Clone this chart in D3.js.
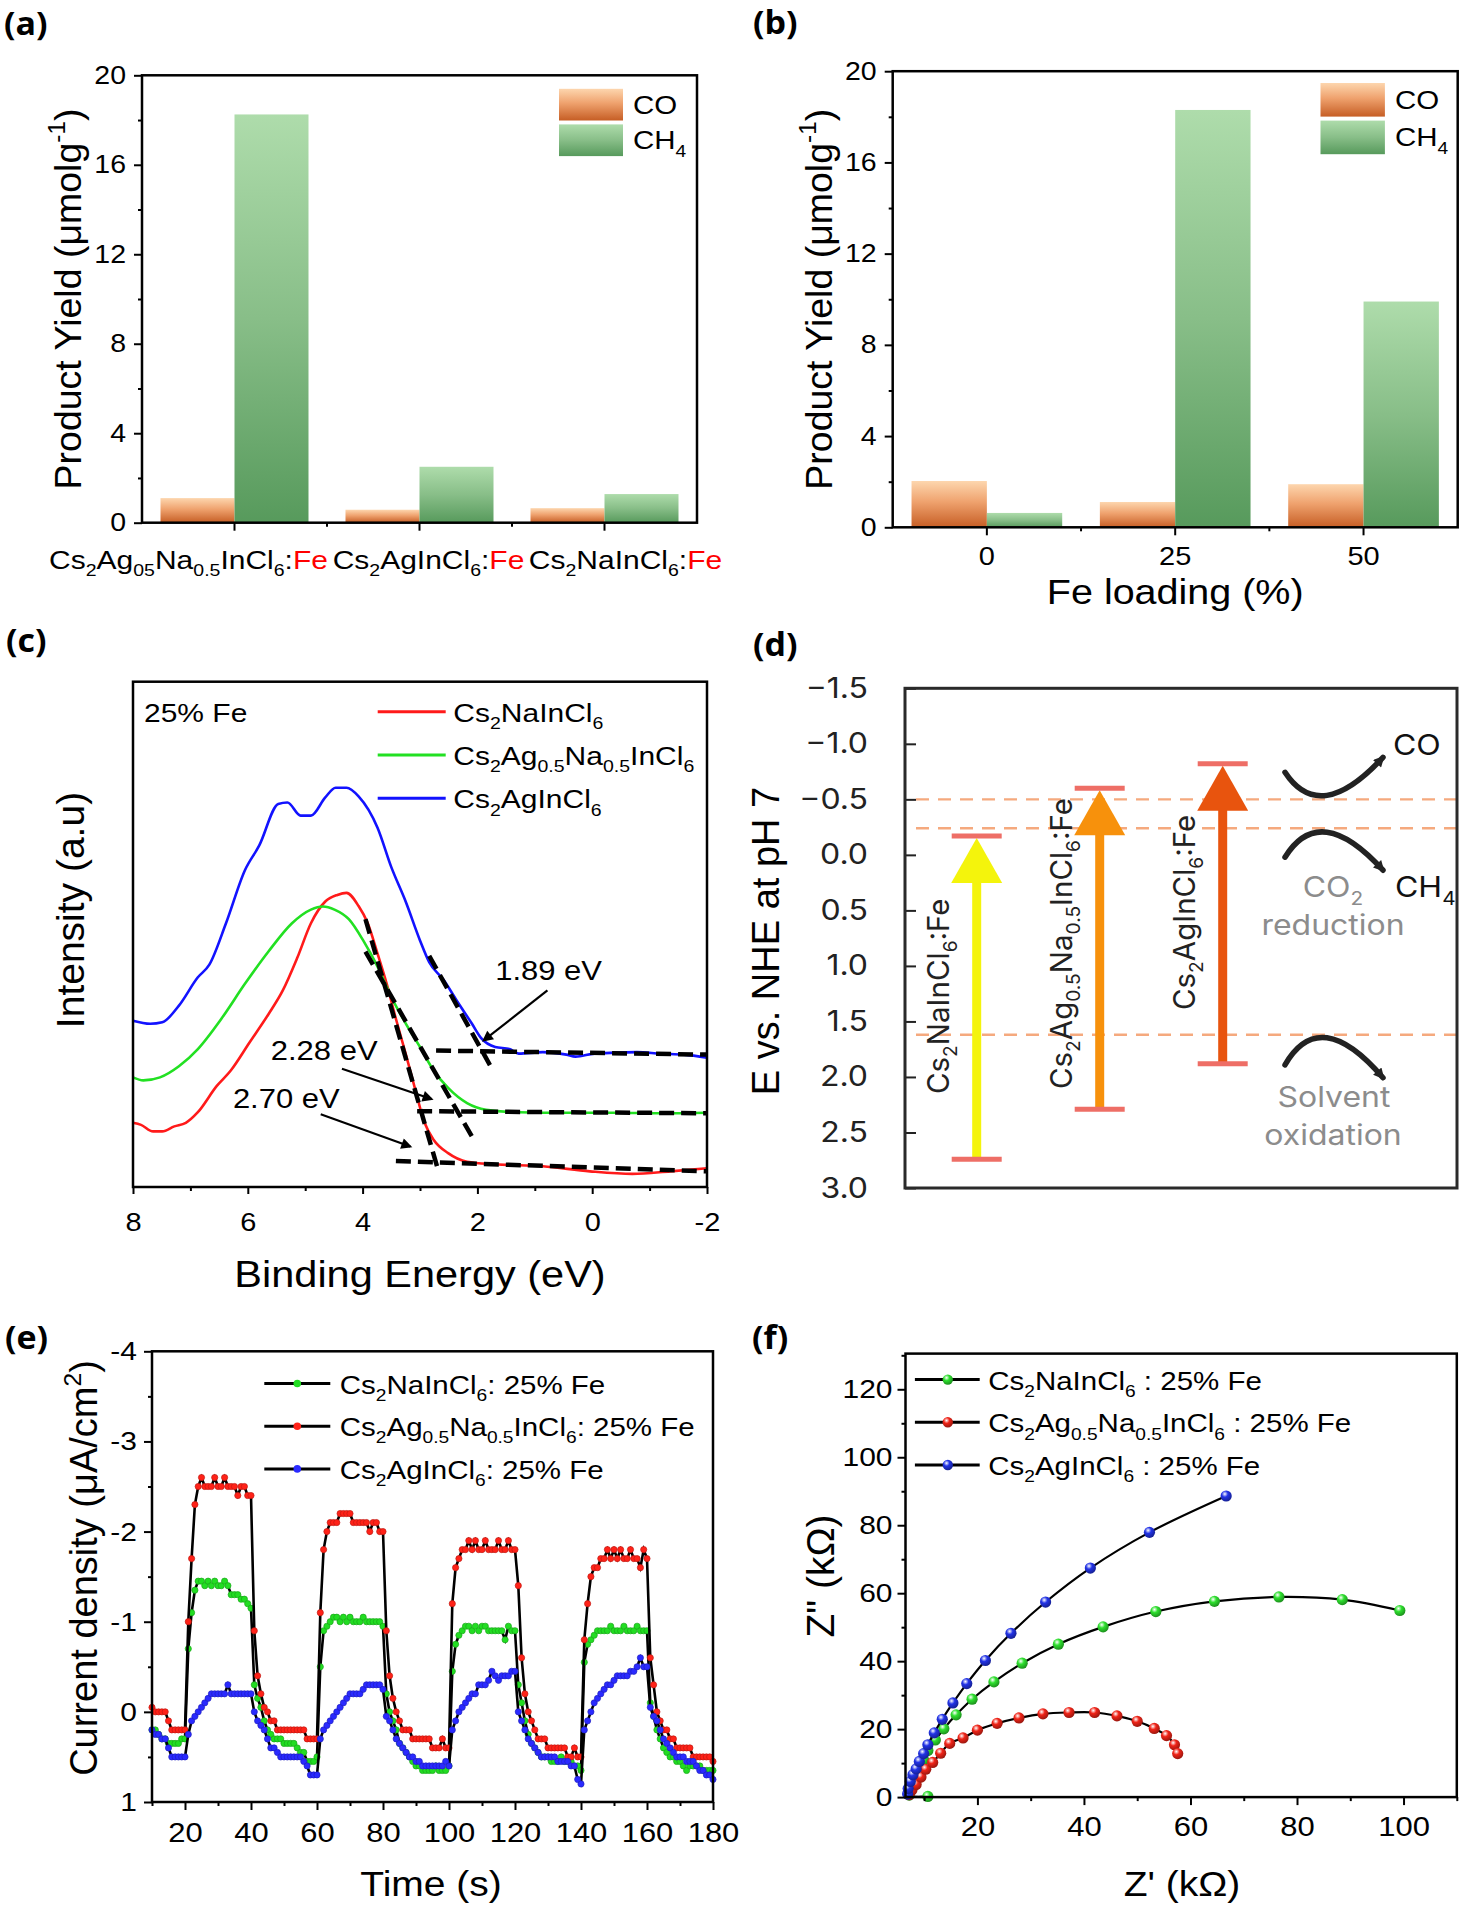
<!DOCTYPE html>
<html>
<head>
<meta charset="utf-8">
<title>Cs2(Ag,Na)InCl6:Fe photocatalysis</title>
<script src="https://cdn.jsdelivr.net/npm/d3@7"></script>
<style>
  body { margin: 0; background: #fff; }
  svg { display: block; }
</style>
</head>
<body>
<svg id="fig" width="1477" height="1909"></svg>
<script>
// ---------------- data ----------------
// (a) product yield per composition
const compLabels = ["Cs_{2}Ag_{05}Na_{0.5}InCl_{6}:!{Fe}", "Cs_{2}AgInCl_{6}:!{Fe}", "Cs_{2}NaInCl_{6}:!{Fe}"];
const coByComp = [1.1, 0.58, 0.65];
const ch4ByComp = [18.25, 2.5, 1.28];
// (b) product yield vs Fe loading
const feLoading = ["0", "25", "50"];
const coByFe = [2.03, 1.11, 1.89];
const ch4ByFe = [0.63, 18.3, 9.9];
const yieldTicks = [0, 4, 8, 12, 16, 20];

// (c) valence band XPS, [binding energy, intensity]
const vbNa = [[8,12.7],[7.86,12.3],[7.65,11.0],[7.49,11.0],[7.28,12.0],[7.08,12.7],[6.87,14.8],[6.54,20.0],[6.3,23.0],[5.97,28.6],[5.64,34.2],[5.39,38.9],[5.14,45.3],[4.9,52.2],[4.65,56.5],[4.44,57.8],[4.28,58.2],[4.07,55.6],[3.91,52.2],[3.74,46.2],[3.58,40.2],[3.42,33.3],[3.25,26.4],[3.09,19.6],[2.92,12.7],[2.76,9.3],[2.51,6.7],[2.18,5.0],[1.69,4.5],[0.86,4.1],[0.04,3.1],[-0.7,2.6],[-1.36,3.1],[-2,3.7]];
const vbAgNa = [[8,21.7],[7.82,21.1],[7.53,21.7],[7.2,23.9],[6.87,27.3],[6.46,33.3],[6.05,40.2],[5.64,46.6],[5.23,52.2],[4.9,54.9],[4.69,55.5],[4.49,54.9],[4.24,53.0],[3.99,48.8],[3.74,43.6],[3.5,37.6],[3.25,32.4],[3.0,27.7],[2.76,23.0],[2.51,19.6],[2.18,16.6],[1.85,15.3],[1.28,14.8],[0.45,14.7],[-0.37,14.7],[-1.19,14.6],[-2,14.7]];
const vbAg = [[8,32.9],[7.7,32.3],[7.49,32.6],[7.2,35.9],[6.87,41.5],[6.67,44.0],[6.38,52.2],[6.05,62.7],[5.8,67.6],[5.47,75.8],[5.31,76.1],[5.08,73.5],[4.9,73.5],[4.65,77.1],[4.47,79.0],[4.28,79.0],[4.07,77.3],[3.74,71.1],[3.5,63.3],[3.25,56.5],[3.0,48.8],[2.84,44.5],[2.59,41.0],[2.35,36.7],[2.1,32.4],[1.93,29.4],[1.69,27.7],[1.44,27.3],[1.28,26.4],[0.86,26.7],[0.45,26.2],[0.29,25.8],[-0.04,26.4],[-0.78,26.7],[-1.19,26.4],[-1.6,26.2],[-2,25.6]];
// linear fits used for the band edges
const fitLines = [
  [[2.84,45.75],[1.77,23.9]], [[2.72,27.0],[-2,26.2]],
  [[3.95,46.6],[2.06,9.3]],   [[3.05,15.0],[-2,14.6]],
  [[3.95,53.0],[2.67,2.8]],   [[3.42,5.15],[-2,3.1]]
];
const edgeNotes = [
  {text: "1.89 eV", at: [1.69, 41.0], from: [0.78, 38.9], to: [1.89, 29.0]},
  {text: "2.28 eV", at: [5.6, 25.2], from: [4.36, 23.4], to: [2.80, 17.4]},
  {text: "2.70 eV", at: [6.26, 15.7], from: [4.73, 14.4], to: [3.17, 8.0]}
];

// (d) band positions vs NHE
const bandNames = ["Cs_{2}NaInCl_{6}:Fe", "Cs_{2}Ag_{0.5}Na_{0.5}InCl_{6}:Fe", "Cs_{2}AgInCl_{6}:Fe"];
const cbEdge = [-0.17, -0.60, -0.82];
const vbEdge = [2.74, 2.29, 1.88];
const bandColors = ["#f4f40c", "#f7910c", "#e8540e"];
const redoxLevels = [-0.50, -0.24, 1.62];
const nheTicks = [-1.5, -1.0, -0.5, 0.0, 0.5, 1.0, 1.5, 2.0, 2.5, 3.0];

// (e) transient photocurrent, one value per second
const tPhoto = [10,11,12,13,14,15,16,17,18,19,20,21,22,23,24,25,26,27,28,29,30,31,32,33,34,35,36,37,38,39,40,41,42,43,44,45,46,47,48,49,50,51,52,53,54,55,56,57,58,59,60,61,62,63,64,65,66,67,68,69,70,71,72,73,74,75,76,77,78,79,80,81,82,83,84,85,86,87,88,89,90,91,92,93,94,95,96,97,98,99,100,101,102,103,104,105,106,107,108,109,110,111,112,113,114,115,116,117,118,119,120,121,122,123,124,125,126,127,128,129,130,131,132,133,134,135,136,137,138,139,140,141,142,143,144,145,146,147,148,149,150,151,152,153,154,155,156,157,158,159,160,161,162,163,164,165,166,167,168,169,170,171,172,173,174,175,176,177,178,179,180];
const photoNa = [
  0.2,0.2,0.25,0.3,0.3,0.35,0.35,0.35,0.35,0.3,
  0.3,-0.7,-1.1,-1.35,-1.45,-1.45,-1.4,-1.45,-1.4,-1.45,
  -1.4,-1.4,-1.45,-1.4,-1.3,-1.3,-1.3,-1.25,-1.25,-1.2,
  -1.15,-0.3,-0.15,-0.05,0.1,0.2,0.25,0.3,0.3,0.3,
  0.35,0.35,0.35,0.35,0.4,0.45,0.45,0.55,0.55,0.55,
  0.5,-0.5,-0.9,-0.95,-1.0,-1.05,-1.05,-1.0,-1.05,-1.0,
  -1.05,-1.0,-1.0,-1.0,-1.05,-1.0,-1.0,-1.0,-1.0,-1.0,
  -0.95,-0.2,0,0.1,0.2,0.35,0.4,0.45,0.5,0.55,
  0.6,0.6,0.65,0.65,0.65,0.65,0.6,0.65,0.65,0.65,
  0.6,-0.45,-0.75,-0.85,-0.9,-0.95,-0.95,-0.9,-0.95,-0.9,
  -0.95,-0.95,-0.9,-0.9,-0.9,-0.9,-0.9,-0.8,-0.95,-0.9,
  -0.9,-0.3,-0.1,0.1,0.25,0.35,0.4,0.45,0.5,0.5,
  0.5,0.55,0.55,0.55,0.5,0.55,0.55,0.55,0.6,0.6,
  0.65,-0.55,-0.75,-0.8,-0.85,-0.9,-0.9,-0.9,-0.9,-0.95,
  -0.9,-0.9,-0.9,-0.95,-0.9,-0.9,-0.9,-0.95,-0.9,-0.9,
  -0.9,-0.1,0.05,0.2,0.3,0.4,0.45,0.5,0.5,0.55,
  0.55,0.6,0.65,0.6,0.6,0.6,0.6,0.65,0.65,0.65,0.65];
const photoAgNa = [
  -0.05,0,0,0,0,0.1,0.2,0.2,0.2,0.2,
  0.2,-1.0,-1.7,-2.3,-2.5,-2.6,-2.5,-2.5,-2.5,-2.6,
  -2.5,-2.5,-2.6,-2.5,-2.5,-2.5,-2.4,-2.5,-2.5,-2.4,
  -2.4,-0.9,-0.4,-0.2,-0.05,0,0.1,0.1,0.2,0.2,
  0.2,0.2,0.2,0.2,0.2,0.2,0.2,0.3,0.3,0.3,
  0.3,-1.1,-1.8,-2.0,-2.1,-2.1,-2.1,-2.2,-2.2,-2.2,
  -2.2,-2.1,-2.1,-2.1,-2.1,-2.1,-2.0,-2.1,-2.1,-2.0,
  -2.0,-0.9,-0.4,-0.15,0,0.1,0.2,0.2,0.2,0.3,
  0.3,0.3,0.3,0.3,0.3,0.4,0.4,0.4,0.3,0.4,
  0.4,-1.2,-1.6,-1.7,-1.8,-1.8,-1.9,-1.8,-1.9,-1.8,
  -1.8,-1.9,-1.8,-1.8,-1.8,-1.9,-1.8,-1.8,-1.9,-1.8,
  -1.8,-1.4,-0.6,-0.2,0,0.1,0.2,0.3,0.3,0.3,
  0.4,0.4,0.4,0.4,0.4,0.4,0.5,0.5,0.4,0.5,
  0.5,-0.8,-1.2,-1.5,-1.6,-1.6,-1.7,-1.7,-1.8,-1.7,
  -1.8,-1.7,-1.8,-1.7,-1.7,-1.8,-1.7,-1.7,-1.6,-1.8,
  -1.7,-0.6,-0.3,0,0.1,0.2,0.2,0.3,0.3,0.4,
  0.4,0.4,0.4,0.4,0.5,0.5,0.5,0.5,0.5,0.5,0.55];
const photoAg = [
  0.2,0.25,0.25,0.3,0.3,0.4,0.5,0.5,0.5,0.5,
  0.5,0.25,0.1,0.05,0,-0.05,-0.1,-0.15,-0.2,-0.2,
  -0.2,-0.2,-0.2,-0.3,-0.2,-0.2,-0.2,-0.2,-0.2,-0.2,
  -0.2,0,0.1,0.15,0.2,0.3,0.4,0.4,0.45,0.5,
  0.5,0.5,0.5,0.5,0.5,0.5,0.55,0.6,0.7,0.7,
  0.7,0.3,0.2,0.15,0.1,0.05,0,-0.05,-0.1,-0.15,
  -0.2,-0.2,-0.2,-0.2,-0.25,-0.3,-0.3,-0.3,-0.3,-0.3,
  -0.25,0.05,0.1,0.2,0.3,0.35,0.4,0.45,0.5,0.5,
  0.55,0.55,0.6,0.6,0.6,0.6,0.6,0.6,0.6,0.55,
  0.6,0.2,0.1,0,-0.05,-0.1,-0.15,-0.2,-0.2,-0.3,
  -0.3,-0.3,-0.35,-0.45,-0.4,-0.35,-0.4,-0.4,-0.4,-0.45,
  -0.45,0,0.1,0.2,0.3,0.35,0.4,0.45,0.5,0.5,
  0.5,0.5,0.5,0.55,0.55,0.55,0.55,0.6,0.6,0.75,
  0.8,0.2,0.1,0,-0.1,-0.15,-0.2,-0.25,-0.3,-0.3,
  -0.35,-0.4,-0.4,-0.4,-0.4,-0.45,-0.45,-0.5,-0.6,-0.5,
  -0.5,-0.05,0.05,0.1,0.2,0.3,0.35,0.4,0.45,0.5,
  0.5,0.5,0.55,0.55,0.55,0.6,0.65,0.65,0.7,0.7,0.75];

// (f) Nyquist plots, [Z', Z'']
const eisNa = [[10.7,0.2],[7.2,0.6],[7.7,2.5],[8.3,5.1],[9.0,8.0],[9.9,10.9],[10.7,13.7],[12.1,16.8],[13.7,20.1],[16.0,24.2],[19.0,28.8],[23.1,33.9],[28.4,39.4],[35.2,45.0],[43.6,50.1],[53.5,54.6],[64.5,57.6],[76.6,58.9],[88.5,58.1],[99.3,54.9]];
const eisAgNa = [[7.2,0.7],[7.7,2.1],[8.5,3.7],[9.4,5.9],[10.3,8.2],[11.6,10.2],[13.1,12.9],[14.8,15.8],[17.3,17.4],[20.0,19.7],[23.7,21.7],[27.8,23.3],[32.3,24.5],[37.2,24.9],[42.0,24.9],[46.2,23.9],[50.0,22.3],[53.2,20.2],[55.5,18.1],[57.0,15.4],[57.6,12.8]];
const eisAg = [[6.9,0.9],[7.0,2.5],[7.4,4.6],[7.9,6.6],[8.5,8.3],[9.1,10.5],[9.9,12.8],[10.7,15.4],[11.9,18.9],[13.4,22.9],[15.4,27.7],[18.0,33.4],[21.5,40.2],[26.3,48.2],[32.8,57.4],[41.2,67.4],[52.3,77.9],[66.7,88.6]];

// ---------------- helpers ----------------
const svg = d3.select("#fig");
const defs = svg.append("defs");
const SANS = '"Liberation Sans", Arial, Helvetica, sans-serif';
const GEO = 'Inter, "Open Sans", sans-serif';
const SY = 0.88; // horizontal lettering in the source is a bit squat
const LEG = 29.5;

/** write "Cs_{2}...^{-1}...!{Fe}" as tspans: _ sub, ^ sup, ! red */
const rich = (text, str, fs) => {
  const re = /([_^!])\{([^}]*)\}|([^_^!]+)/g;
  let m, shift = 0;
  while ((m = re.exec(str)) !== null) {
    const ts = text.append("tspan");
    let want = 0;
    if (m[3] !== undefined) ts.text(m[3]);
    else if (m[1] === "!") ts.text(m[2]).attr("fill", "#ff0000");
    else {
      ts.text(m[2]).attr("font-size", fs * 0.65);
      want = m[1] === "_" ? fs * 0.28 : -fs * 0.42;
    }
    if (want !== shift) { ts.attr("dy", want - shift); shift = want; }
  }
  return text;
};

const vGrad = (id, stops) => {
  const lg = defs.append("linearGradient").attr("id", id)
    .attr("x1", 0).attr("y1", 0).attr("x2", 0).attr("y2", 1);
  stops.forEach(([o, c]) => lg.append("stop").attr("offset", o).attr("stop-color", c));
};
vGrad("gradCO", [[0, "#fdd6ae"], [0.45, "#efa26e"], [1, "#c65e25"]]);
vGrad("gradCH4", [[0, "#aedcab"], [0.5, "#88be88"], [1, "#579a5c"]]);

const ballGrad = (id, c) => {
  const rg = defs.append("radialGradient").attr("id", id)
    .attr("cx", "38%").attr("cy", "32%").attr("r", "70%");
  rg.append("stop").attr("offset", 0).attr("stop-color", "#ffffff");
  rg.append("stop").attr("offset", 0.4).attr("stop-color", c);
  rg.append("stop").attr("offset", 1).attr("stop-color", d3.color(c).darker(1.3));
};

const arrowHead = (id, col, w, h) => defs.append("marker").attr("id", id)
  .attr("viewBox", "0 0 10 10").attr("refX", 8).attr("refY", 5)
  .attr("markerUnits", "userSpaceOnUse").attr("markerWidth", w).attr("markerHeight", h)
  .attr("orient", "auto")
  .append("path").attr("d", "M0,0 L10,5 L0,10 Z").attr("fill", col);
arrowHead("headC", "#000", 16, 11);
arrowHead("headD", "#222", 15, 11);

/** font, squash and colour of an axis; baseline puts bottom-axis labels at that offset */
const styleAxis = (sel, fs, o = {}) => {
  sel.attr("font-size", fs).attr("font-family", o.family || SANS);
  sel.select(".domain").remove();
  sel.selectAll(".tick line").attr("stroke", o.col || "#000").attr("stroke-width", 2);
  const txt = sel.selectAll(".tick text").attr("fill", o.col || "#000").attr("transform", `scale(1,${SY})`);
  if (o.baseline) txt.attr("y", o.baseline / SY).attr("dy", null);
};
const minorTicks = (g, axis, tr) => g.append("g").attr("transform", tr)
  .call(axis.tickFormat(() => ""))
  .call(s => {
    s.select(".domain").remove();
    s.selectAll("line").attr("stroke", "#000").attr("stroke-width", 2);
  });
const frame = (g, b, w, col) => g.append("rect")
  .attr("x", b.x0).attr("y", b.y0).attr("width", b.x1 - b.x0).attr("height", b.y1 - b.y0)
  .attr("fill", "none").attr("stroke", col || "#000").attr("stroke-width", w || 2.5);
const label = (g, str, x, y, fs, anchor, family, fill) => rich(g.append("text")
  .attr("transform", `translate(${x},${y}) scale(1,${SY})`).attr("text-anchor", anchor || "start")
  .attr("font-size", fs).attr("font-family", family || SANS).attr("fill", fill || "#000"), str, fs);
const yTitle = (g, str, x, y, fs, family) => rich(g.append("text")
  .attr("transform", `translate(${x},${y}) rotate(-90)`).attr("text-anchor", "middle")
  .attr("font-size", fs).attr("font-family", family || SANS).attr("fill", "#000"), str, fs);
const panelLabel = (t, x, y) => svg.append("text")
  .attr("transform", `translate(${x},${y}) scale(1,0.92)`)
  .attr("font-family", '"Open Sans", sans-serif').attr("font-weight", 700)
  .attr("font-size", 34).text(t);

// ---------------- (a) and (b): grouped bars ----------------
const barPanel = (b, cats, co, ch4, o) => {
  const g = svg.append("g");
  const x = d3.scaleBand().domain(cats).range([b.x0, b.x1]);
  const inner = d3.scaleBand().domain(["CO", "CH4"]).range([0, x.bandwidth()]).paddingOuter(0.25);
  const y = d3.scaleLinear().domain([0, 20]).range([b.y1, b.y0]);
  const rows = cats.map((c, i) => ({c, vals: [{k: "CO", v: co[i]}, {k: "CH4", v: ch4[i]}]}));
  g.selectAll("g.grp").data(rows).join("g").attr("class", "grp")
    .attr("transform", d => `translate(${x(d.c)},0)`)
    .selectAll("rect").data(d => d.vals).join("rect")
    .attr("x", d => inner(d.k)).attr("width", inner.bandwidth())
    .attr("y", d => y(d.v)).attr("height", d => y(0) - y(d.v))
    .attr("fill", d => `url(#grad${d.k})`);

  g.append("g").attr("transform", `translate(${b.x0},0)`)
    .call(d3.axisLeft(y).tickValues(yieldTicks).tickSize(8).tickPadding(8))
    .call(s => styleAxis(s, 28.5));
  minorTicks(g, d3.axisLeft(y).tickValues([2, 6, 10, 14, 18]).tickSize(4), `translate(${b.x0},0)`);

  g.append("g").attr("transform", `translate(0,${b.y1})`)
    .call(d3.axisBottom(x).tickSize(8).tickFormat(o.plainTicks ? (d => d) : () => ""))
    .call(s => styleAxis(s, 29, {baseline: o.tickBaseline || 30}));
  g.selectAll("line.sep").data(cats.slice(0, -1)).join("line").attr("class", "sep")
    .attr("x1", d => x(d) + x.step()).attr("x2", d => x(d) + x.step())
    .attr("y1", b.y1).attr("y2", b.y1 + 4).attr("stroke", "#000").attr("stroke-width", 2);

  if (!o.plainTicks) {
    cats.forEach((c, i) => label(g, c, x(c) + x.bandwidth() / 2 + o.labelDx[i], o.labelY, 30, "middle"));
  }
  if (o.xTitle) label(g, o.xTitle, (b.x0 + b.x1) / 2, o.xTitleY, 39.5, "middle");
  yTitle(g, "Product Yield (μmolg^{-1})", o.yTitleX, (b.y0 + b.y1) / 2, 37.5);

  [["CO", "CO"], ["CH4", "CH_{4}"]].forEach(([k, txt], i) => {
    const top = o.leg.y + i * o.leg.step;
    g.append("rect").attr("x", o.leg.x).attr("y", top).attr("width", o.leg.w).attr("height", o.leg.h)
      .attr("fill", `url(#grad${k})`);
    label(g, txt, o.leg.x + o.leg.w + 10, top + o.leg.h / 2 + 9, LEG);
  });
  frame(g, b);
};

barPanel({x0: 142, x1: 697, y0: 75.3, y1: 522.7}, compLabels, coByComp, ch4ByComp, {
  labelDx: [-46, 9, 21], labelY: 569, yTitleX: 81,
  leg: {x: 559, y: 88.8, w: 64, h: 31.7, step: 35.6}
});
barPanel({x0: 892.7, x1: 1457.7, y0: 71.2, y1: 527.3}, feLoading, coByFe, ch4ByFe, {
  plainTicks: true, tickBaseline: 38, xTitle: "Fe loading (%)", xTitleY: 604, yTitleX: 832,
  leg: {x: 1320.5, y: 83, w: 64.4, h: 33.6, step: 37.6}
});

// ---------------- (c): valence band spectra ----------------
{
  const C = {x0: 133, x1: 707, y0: 681.7, y1: 1187};
  const g = svg.append("g");
  const x = d3.scaleLinear().domain([8, -2]).range([C.x0, C.x1]);
  const y = d3.scaleLinear().domain([0, 100]).range([C.y1, C.y0]);
  const line = d3.line().x(d => x(d[0])).y(d => y(d[1])).curve(d3.curveMonotoneX);
  const series = [
    {d: vbNa, c: "#ff1a1a", name: "Cs_{2}NaInCl_{6}"},
    {d: vbAgNa, c: "#22e022", name: "Cs_{2}Ag_{0.5}Na_{0.5}InCl_{6}"},
    {d: vbAg, c: "#1212ff", name: "Cs_{2}AgInCl_{6}"}
  ];
  g.selectAll("path.vb").data(series).join("path").attr("class", "vb")
    .attr("d", s => line(s.d)).attr("fill", "none").attr("stroke", s => s.c).attr("stroke-width", 2.6);
  g.selectAll("path.fit").data(fitLines).join("path").attr("class", "fit")
    .attr("d", d3.line().x(d => x(d[0])).y(d => y(d[1])))
    .attr("stroke", "#000").attr("stroke-width", 4.5).attr("stroke-dasharray", "15,7").attr("fill", "none");

  edgeNotes.forEach(n => {
    label(g, n.text, x(n.at[0]), y(n.at[1]), 31);
    g.append("line").attr("x1", x(n.from[0])).attr("y1", y(n.from[1]))
      .attr("x2", x(n.to[0])).attr("y2", y(n.to[1]))
      .attr("stroke", "#000").attr("stroke-width", 2.2).attr("marker-end", "url(#headC)");
  });

  label(g, "25% Fe", 144, 721.7, 30);
  series.forEach((s, i) => {
    const ly = 711.7 + i * 43.3;
    g.append("line").attr("x1", 377.7).attr("x2", 445.7).attr("y1", ly).attr("y2", ly)
      .attr("stroke", s.c).attr("stroke-width", 3);
    label(g, s.name, 453.3, ly + 10, 30);
  });

  g.append("g").attr("transform", `translate(0,${C.y1})`)
    .call(d3.axisBottom(x).tickValues([8, 6, 4, 2, 0, -2]).tickSize(7).tickFormat(d => String(d)))
    .call(s => styleAxis(s, 29, {baseline: 44}));
  minorTicks(g, d3.axisBottom(x).tickValues([7, 5, 3, 1, -1]).tickSize(4), `translate(0,${C.y1})`);
  label(g, "Binding Energy (eV)", (C.x0 + C.x1) / 2, 1287, 41.5, "middle");
  yTitle(g, "Intensity (a.u)", 84, 910, 39);
  frame(g, C);
}

// ---------------- (d): band alignment ----------------
{
  const D = {x0: 905, x1: 1457, y0: 688.3, y1: 1188};
  const g = svg.append("g");
  const y = d3.scaleLinear().domain([-1.5, 3.0]).range([D.y0, D.y1]);
  const x = d3.scalePoint().domain(bandNames).range([976.7, 1222.7]);

  g.selectAll("line.level").data(redoxLevels).join("line").attr("class", "level")
    .attr("x1", D.x0 + 11).attr("x2", D.x1).attr("y1", d => y(d)).attr("y2", d => y(d))
    .attr("stroke", "#f5a97e").attr("stroke-width", 2.4).attr("stroke-dasharray", "13,9");

  const bands = bandNames.map((n, i) => ({n, cb: cbEdge[i], vb: vbEdge[i], c: bandColors[i]}));
  const bg = g.selectAll("g.band").data(bands).join("g").attr("class", "band")
    .attr("transform", d => `translate(${x(d.n)},0)`);
  bg.append("rect").attr("x", -4.5).attr("width", 9)
    .attr("y", d => y(d.cb) + 44).attr("height", d => y(d.vb) - y(d.cb) - 44)
    .attr("fill", d => d.c);
  bg.append("path")
    .attr("d", d => `M0,${y(d.cb) + 2}L25.5,${y(d.cb) + 47}L-25.5,${y(d.cb) + 47}Z`)
    .attr("fill", d => d.c);
  bg.selectAll("line.cap").data(d => [d.cb, d.vb]).join("line").attr("class", "cap")
    .attr("x1", -25).attr("x2", 25).attr("y1", v => y(v)).attr("y2", v => y(v))
    .attr("stroke", "#ee6e66").attr("stroke-width", 5);
  const labelBottom = [1094, 1089, 1010];
  bands.forEach((d, i) => rich(g.append("text")
    .attr("transform", `translate(${x(d.n) - 28},${labelBottom[i]}) rotate(-90)`)
    .attr("font-size", 29.5).attr("font-family", GEO).attr("fill", "#222"), d.n, 29.5));

  // reaction arrows hanging on the redox levels
  const arcs = [
    L => `M1285,${L - 27} Q1320,${L + 26.5} 1383,${L - 42}`,
    L => `M1285,${L + 29} Q1320,${L - 27.5} 1383,${L + 42}`,
    L => `M1285,${L + 30} Q1320,${L - 30.5} 1383,${L + 43}`
  ];
  arcs.forEach((f, i) => g.append("path").attr("d", f(y(redoxLevels[i])))
    .attr("fill", "none").attr("stroke", "#222").attr("stroke-width", 5.5)
    .attr("stroke-linecap", "round").attr("marker-end", "url(#headD)"));
  label(g, "CO", 1393, 755, 32, "start", GEO, "#111");
  label(g, "CH_{4}", 1395, 897, 32, "start", GEO, "#111");
  label(g, "CO_{2}", 1333, 897, 32, "middle", GEO, "#8c8c8c");
  label(g, "reduction", 1333, 935, 32, "middle", GEO, "#8c8c8c");
  label(g, "Solvent", 1334, 1107, 32, "middle", GEO, "#8c8c8c");
  label(g, "oxidation", 1333, 1145, 32, "middle", GEO, "#8c8c8c");

  g.append("g").attr("transform", `translate(${D.x0},0)`)
    .call(d3.axisLeft(y).tickValues(nheTicks).tickSize(-11).tickPadding(37)
      .tickFormat(d => (d < 0 ? "\u2212" : "") + Math.abs(d).toFixed(1)))
    .call(s => styleAxis(s, 32, {family: GEO, col: "#222"}));
  yTitle(g, "E vs. NHE at pH 7", 779, 941, 38);
  frame(g, D, 3, "#2a2a2a");
}

// ---------------- (e): transient photocurrent ----------------
{
  const E = {x0: 152, x1: 713, y0: 1351.3, y1: 1802};
  const g = svg.append("g");
  const x = d3.scaleLinear().domain([10, 180]).range([E.x0, E.x1]);
  const y = d3.scaleLinear().domain([-4, 1]).range([E.y0, E.y1]);
  const series = [
    {v: photoNa, c: "#22dd22", name: "Cs_{2}NaInCl_{6}: 25% Fe"},
    {v: photoAgNa, c: "#ff2218", name: "Cs_{2}Ag_{0.5}Na_{0.5}InCl_{6}: 25% Fe"},
    {v: photoAg, c: "#2a2aff", name: "Cs_{2}AgInCl_{6}: 25% Fe"}
  ];
  const line = d3.line().x((d, i) => x(tPhoto[i])).y(d => y(d));
  series.forEach(s => {
    g.append("path").attr("d", line(s.v)).attr("fill", "none")
      .attr("stroke", "#000").attr("stroke-width", 2.6);
    g.append("g").selectAll("circle").data(s.v).join("circle")
      .attr("cx", (d, i) => x(tPhoto[i])).attr("cy", d => y(d)).attr("r", 3.1)
      .attr("fill", s.c).attr("stroke", d3.color(s.c).darker(0.8)).attr("stroke-width", 0.7);
  });
  series.forEach((s, i) => {
    const ly = 1383.5 + i * 42.7;
    g.append("line").attr("x1", 264.3).attr("x2", 330.3).attr("y1", ly).attr("y2", ly)
      .attr("stroke", "#000").attr("stroke-width", 3);
    g.append("circle").attr("cx", 297.3).attr("cy", ly).attr("r", 3.8).attr("fill", s.c);
    label(g, s.name, 339.8, ly + 10, LEG);
  });

  g.append("g").attr("transform", `translate(${E.x0},0)`)
    .call(d3.axisLeft(y).tickValues([-4, -3, -2, -1, 0, 1]).tickSize(8).tickPadding(7).tickFormat(d => String(d)))
    .call(s => styleAxis(s, 30));
  minorTicks(g, d3.axisLeft(y).tickValues([-3.5, -2.5, -1.5, -0.5, 0.5]).tickSize(4), `translate(${E.x0},0)`);
  g.append("g").attr("transform", `translate(0,${E.y1})`)
    .call(d3.axisBottom(x).tickValues([20, 40, 60, 80, 100, 120, 140, 160, 180]).tickSize(8))
    .call(s => styleAxis(s, 31, {baseline: 40}));
  minorTicks(g, d3.axisBottom(x).tickValues([10, 30, 50, 70, 90, 110, 130, 150, 170]).tickSize(4), `translate(0,${E.y1})`);
  label(g, "Time (s)", 431, 1896, 39, "middle");
  yTitle(g, "Current density (μA/cm^{2})", 97, 1568, 38);
  frame(g, E);
}

// ---------------- (f): Nyquist plots ----------------
{
  const F = {x0: 905.5, x1: 1456.8, y0: 1353.6, y1: 1797.1};
  const g = svg.append("g");
  const x = d3.scaleLinear().domain([6.5, 110]).range([F.x0, F.x1]);
  const y = d3.scaleLinear().domain([0, 130.5]).range([F.y1, F.y0]);
  const series = [
    {d: eisNa, c: "#2ee02e", id: "ballG", name: "Cs_{2}NaInCl_{6} : 25% Fe"},
    {d: eisAgNa, c: "#f02418", id: "ballR", name: "Cs_{2}Ag_{0.5}Na_{0.5}InCl_{6} : 25% Fe"},
    {d: eisAg, c: "#2233e6", id: "ballB", name: "Cs_{2}AgInCl_{6} : 25% Fe"}
  ];
  series.forEach(s => ballGrad(s.id, s.c));
  const line = d3.line().x(d => x(d[0])).y(d => y(d[1])).curve(d3.curveCatmullRom.alpha(0.5));
  series.forEach(s => {
    g.append("path").attr("d", line(s.d)).attr("fill", "none").attr("stroke", "#000").attr("stroke-width", 2.2);
    g.append("g").selectAll("circle").data(s.d).join("circle")
      .attr("cx", d => x(d[0])).attr("cy", d => y(d[1])).attr("r", 5.6)
      .attr("fill", `url(#${s.id})`);
  });
  series.forEach((s, i) => {
    const ly = 1379.6 + i * 42.7;
    g.append("line").attr("x1", 914.9).attr("x2", 979.7).attr("y1", ly).attr("y2", ly)
      .attr("stroke", "#000").attr("stroke-width", 3);
    g.append("circle").attr("cx", 947.8).attr("cy", ly).attr("r", 5.2).attr("fill", `url(#${s.id})`);
    label(g, s.name, 988.2, ly + 10, LEG);
  });

  g.append("g").attr("transform", `translate(${F.x0},0)`)
    .call(d3.axisLeft(y).tickValues([0, 20, 40, 60, 80, 100, 120]).tickSize(8).tickPadding(5))
    .call(s => styleAxis(s, 30));
  minorTicks(g, d3.axisLeft(y).tickValues([10, 30, 50, 70, 90, 110, 130]).tickSize(4), `translate(${F.x0},0)`);
  g.append("g").attr("transform", `translate(0,${F.y1})`)
    .call(d3.axisBottom(x).tickValues([20, 40, 60, 80, 100]).tickSize(8))
    .call(s => styleAxis(s, 31, {baseline: 39}));
  minorTicks(g, d3.axisBottom(x).tickValues([10, 30, 50, 70, 90, 110]).tickSize(4), `translate(0,${F.y1})`);
  label(g, "Z' (kΩ)", 1182, 1896, 39, "middle");
  yTitle(g, "Z\" (kΩ)", 834, 1576, 39);
  frame(g, F);
}

panelLabel("(a)", 4, 35);
panelLabel("(b)", 753, 34);
panelLabel("(c)", 6, 652);
panelLabel("(d)", 753, 656);
panelLabel("(e)", 5, 1349);
panelLabel("(f)", 752, 1349);
</script>
</body>
</html>
